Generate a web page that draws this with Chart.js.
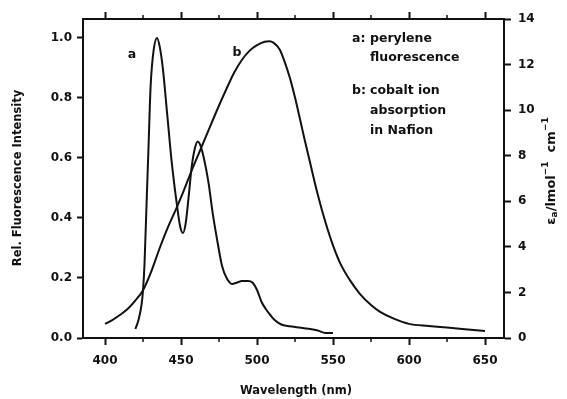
<!DOCTYPE html>
<html>
<head>
<meta charset="utf-8">
<script src="https://cdn.jsdelivr.net/npm/chart.js@4.4.0/dist/chart.umd.min.js"></script>
<style>
  html, body { margin: 0; padding: 0; background: #fff; }
  #wrap { width: 567px; height: 399px; }
</style>
</head>
<body>
<div id="wrap"><canvas id="chart"></canvas></div>
<script>
// curve a: perylene fluorescence (left axis)
const waveA = [420, 422, 424, 425, 426, 427.4, 428.5, 430, 432, 434.2, 436, 438, 441, 444, 447.4, 449.5, 451.3, 453, 455, 457, 459, 461, 462.5, 465, 468, 471, 474, 477, 480, 483.5, 487, 490, 494, 497, 500, 503, 506, 509, 512, 516, 520, 525, 530, 535, 540, 545, 550];
const fluorA = [0.03, 0.06, 0.11, 0.16, 0.25, 0.46, 0.62, 0.84, 0.96, 1.0, 0.97, 0.9, 0.74, 0.58, 0.44, 0.37, 0.35, 0.38, 0.47, 0.57, 0.63, 0.655, 0.645, 0.6, 0.52, 0.41, 0.32, 0.24, 0.2, 0.18, 0.185, 0.19, 0.19, 0.185, 0.16, 0.12, 0.095, 0.075, 0.058, 0.045, 0.04, 0.037, 0.033, 0.03, 0.025, 0.017, 0.017];

// curve b: cobalt ion absorption in Nafion (right axis)
const waveB = [400, 405, 410, 415, 420, 425, 430, 436, 441, 447, 452, 457, 462, 468, 474, 480, 485, 490, 495, 500, 505, 508, 511, 515, 518, 521.7, 525, 528.3, 531, 534.9, 539, 543.4, 549, 554.6, 561, 567.8, 575, 581, 590, 600, 613, 625, 635, 650];
const absB = [0.62, 0.8, 1.02, 1.28, 1.65, 2.1, 2.85, 3.95, 4.8, 5.7, 6.5, 7.35, 8.15, 9.1, 10.05, 10.95, 11.65, 12.2, 12.6, 12.85, 13.0, 13.02, 12.95, 12.65, 12.15, 11.4, 10.55, 9.6, 8.8, 7.7, 6.55, 5.45, 4.25, 3.3, 2.55, 1.93, 1.45, 1.15, 0.85, 0.62, 0.53, 0.46, 0.4, 0.31];

const xMajor = [400, 450, 500, 550, 600, 650];
const xMinor = [425, 475, 525, 575, 625];
const leftTicks = [0, 0.2, 0.4, 0.6, 0.8, 1.0];
const rightTicks = [0, 2, 4, 6, 8, 10, 12, 14];

const INK = "#111";
const FAM = "'DejaVu Sans', 'Liberation Sans', sans-serif";
const tickFont = { family: FAM, size: 12, weight: "bold" };

function toPoints(xs, ys) { return xs.map((x, i) => ({ x: x, y: ys[i] })); }

const decorPlugin = {
  id: "decor",
  afterDraw(chart) {
    const ctx = chart.ctx;
    const x = chart.scales.x, area = chart.chartArea;
    ctx.save();
    ctx.strokeStyle = INK;
    ctx.lineWidth = 1.5;
    // minor ticks, bottom and top
    xMinor.forEach((v) => {
      const px = x.getPixelForValue(v);
      ctx.beginPath();
      ctx.moveTo(px, area.bottom); ctx.lineTo(px, area.bottom + 4);
      ctx.moveTo(px, area.top); ctx.lineTo(px, area.top - 4);
      ctx.stroke();
    });

    ctx.fillStyle = INK;
    ctx.textBaseline = "middle";
    // axis titles
    ctx.font = "bold 11.5px " + FAM;
    ctx.textAlign = "center";
    ctx.fillText("Wavelength (nm)", 296, 391);
    ctx.save();
    ctx.translate(18, 178);
    ctx.rotate(-Math.PI / 2);
    ctx.fillText("Rel. Fluorescence Intensity", 0, 0);
    ctx.restore();

    // right title with sub/superscripts
    const parts = [
      { t: "\u03b5", f: "bold 13px " + FAM, dy: 0 },
      { t: "a", f: "bold 9px " + FAM, dy: 3 },
      { t: "/lmol", f: "bold 13px " + FAM, dy: 0 },
      { t: "\u22121", f: "bold 9px " + FAM, dy: -6 },
      { t: "  cm", f: "bold 13px " + FAM, dy: 0 },
      { t: "\u22121", f: "bold 9px " + FAM, dy: -6 },
    ];
    let total = 0;
    parts.forEach((p) => { ctx.font = p.f; p.w = ctx.measureText(p.t).width; total += p.w; });
    ctx.save();
    ctx.translate(552, 171);
    ctx.rotate(-Math.PI / 2);
    ctx.textAlign = "left";
    let cx = -total / 2;
    parts.forEach((p) => { ctx.font = p.f; ctx.fillText(p.t, cx, p.dy); cx += p.w; });
    ctx.restore();

    // curve labels and key
    ctx.font = "bold 12.5px " + FAM;
    ctx.textAlign = "center";
    ctx.fillText("a", 132, 55);
    ctx.fillText("b", 237, 53);
    ctx.textAlign = "left";
    ctx.fillText("a:", 352, 38.5);
    ctx.fillText("perylene", 370, 38.5);
    ctx.fillText("fluorescence", 370, 57.5);
    ctx.fillText("b:", 352, 90.5);
    ctx.fillText("cobalt ion", 370, 90.5);
    ctx.fillText("absorption", 370, 111);
    ctx.fillText("in Nafion", 370, 130.5);
    ctx.restore();
  },
};

const baseGrid = { drawOnChartArea: false, color: INK, tickWidth: 2, tickLength: 7 };
const baseBorder = { color: INK, width: 2 };

new Chart(document.getElementById("chart"), {
  type: "line",
  data: {
    datasets: [
      { label: "a", data: toPoints(waveA, fluorA), yAxisID: "y", borderColor: INK, borderWidth: 2, pointRadius: 0, cubicInterpolationMode: "monotone", fill: false },
      { label: "b", data: toPoints(waveB, absB), yAxisID: "y2", borderColor: INK, borderWidth: 2, pointRadius: 0, cubicInterpolationMode: "monotone", fill: false },
    ],
  },
  options: {
    responsive: true,
    maintainAspectRatio: false,
    devicePixelRatio: 1,
    animation: false,
    layout: { padding: 0 },
    plugins: { legend: { display: false }, tooltip: { enabled: false } },
    scales: {
      x: {
        type: "linear", position: "bottom", min: 385.5, max: 662.5,
        afterBuildTicks: (s) => { s.ticks = xMajor.map((v) => ({ value: v })); },
        afterFit: (s) => { s.height = 61; },
        grid: baseGrid, border: baseBorder,
        ticks: { color: INK, font: tickFont, padding: 9, maxRotation: 0, autoSkip: false, callback: (v) => String(v) },
      },
      x2: {
        type: "linear", position: "top", min: 385.5, max: 662.5,
        afterBuildTicks: (s) => { s.ticks = xMajor.map((v) => ({ value: v })); },
        afterFit: (s) => { s.height = 19; },
        grid: baseGrid, border: baseBorder,
        ticks: { display: false },
      },
      y: {
        type: "linear", position: "left", min: 0, max: 1.063,
        afterBuildTicks: (s) => { s.ticks = leftTicks.map((v) => ({ value: v })); },
        afterFit: (s) => { s.width = 83; },
        grid: Object.assign({}, baseGrid, { tickLength: 6 }), border: baseBorder,
        ticks: { color: INK, font: tickFont, padding: 5, callback: (v) => v.toFixed(1) },
      },
      y2: {
        type: "linear", position: "right", min: 0, max: 14,
        afterBuildTicks: (s) => { s.ticks = rightTicks.map((v) => ({ value: v })); },
        afterFit: (s) => { s.width = 63; },
        grid: baseGrid, border: baseBorder,
        ticks: { color: INK, font: tickFont, padding: 7, callback: (v) => String(v) },
      },
    },
  },
  plugins: [decorPlugin],
});
</script>
</body>
</html>
